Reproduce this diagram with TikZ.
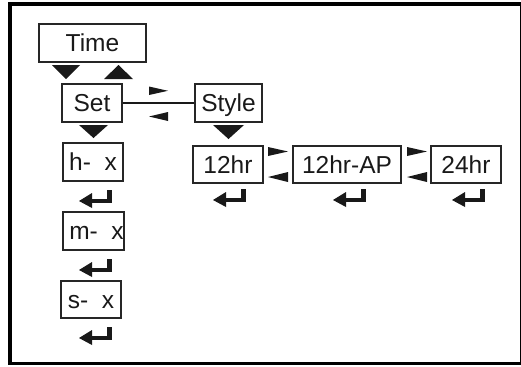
\documentclass[tikz,border=0pt]{standalone}
\usepackage{fontspec}
\setmainfont{Liberation Sans}
\begin{document}
\begin{tikzpicture}[x=1bp,y=-1bp,
  box/.style={draw=black!85, line width=1.6bp, inner sep=0pt, minimum height=38bp,
    text height=17.5bp, text depth=0pt, font=\fontsize{24.5bp}{29bp}\selectfont, text=black!90},
  link/.style={draw=black!90, line width=1.5bp},
  frame/.style={draw=black},
  enterkey/.pic={
    \fill[black!90] (28,0) rectangle (33,13);
    \fill[black!90] (12,9) rectangle (33,13);
    \fill[black!90] (0,11) -- (13,3) -- (13,18) -- cycle;}]
\useasboundingbox (0,0) rectangle (521,366);
% frame
\draw[frame, line width=4bp] (10,363.5) -- (10,4) -- (521,4);
\draw[frame, line width=3bp] (8,363.5) -- (521,363.5);
\draw[frame, line width=1bp] (520.5,4) -- (520.5,363.5);
% boxes
\node[box, minimum width=107bp] (time) at (92.5,43) {Time};
\node[box, minimum width=60bp] (set) at (92,103) {Set};
\node[box, minimum width=67bp] (style) at (228.5,103) {Style};
\node[box, minimum width=60bp] (hx) at (93,162) {h-\ \ x};
\node[box, minimum width=61bp] (mx) at (93.5,231) {\hspace{6bp}m-\ \ x};
\node[box, minimum width=60bp, minimum height=37bp] (sx) at (91,299.5) {s-\ \ x};
\node[box, minimum width=70bp, minimum height=37bp] (h12) at (228,164.5) {12hr};
\node[box, minimum width=108bp, minimum height=37bp] (h12ap) at (347,164.5) {12hr-AP};
\node[box, minimum width=70bp, minimum height=37bp] (h24) at (466,164.5) {24hr};
% connector
\draw[link] (set) -- (style);
% triangles
\fill[black!90] (52,65) -- (80,65) -- (66,79) -- cycle;
\fill[black!90] (104,79) -- (133,79) -- (118.5,65) -- cycle;
\fill[black!90] (149,86.5) -- (149,95) -- (168,90.8) -- cycle;
\fill[black!90] (168,112) -- (168,121) -- (149,116.5) -- cycle;
\fill[black!90] (79,125) -- (108,125) -- (93.5,138) -- cycle;
\fill[black!90] (213,125) -- (244,125) -- (228.5,139) -- cycle;
\fill[black!90] (268,147) -- (268,156) -- (288,151.5) -- cycle;
\fill[black!90] (288,172) -- (288,182) -- (268,177) -- cycle;
\fill[black!90] (407,147) -- (407,156) -- (427,151.5) -- cycle;
\fill[black!90] (427,172) -- (427,182) -- (407,177) -- cycle;
% enter keys
\pic at (79,190) {enterkey};
\pic at (79,259) {enterkey};
\pic at (79,327) {enterkey};
\pic at (213,189) {enterkey};
\pic at (333,189) {enterkey};
\pic at (452,189) {enterkey};
\end{tikzpicture}
\end{document}
